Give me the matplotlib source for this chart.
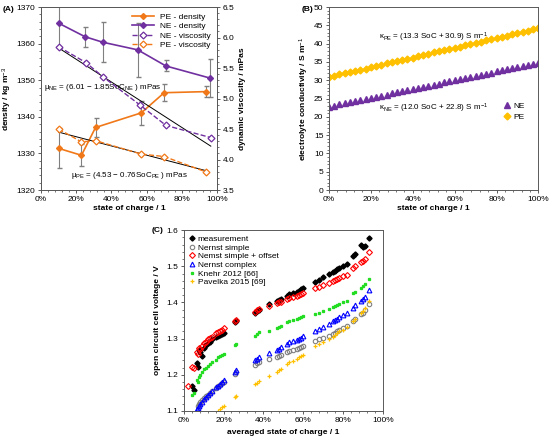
import numpy as np
import matplotlib.pyplot as plt
from matplotlib.ticker import PercentFormatter, MultipleLocator
from matplotlib.lines import Line2D

plt.rcParams['font.family'] = ['Liberation Sans', 'DejaVu Sans']
plt.rcParams['font.size'] = 6
plt.rcParams['mathtext.fontset'] = 'custom'
plt.rcParams['mathtext.rm'] = 'Liberation Sans'
plt.rcParams['mathtext.it'] = 'Liberation Sans:italic'

ORANGE = '#f07818'
PURPLE = '#7030a0'
GOLD = '#ffc000'

# ---- (A) density and viscosity
a_soc_pe = [0.10, 0.23, 0.31, 0.57, 0.70, 0.94]
a_soc_ne = [0.10, 0.25, 0.35, 0.55, 0.71, 0.96]
pe_density = [1331.4, 1329.5, 1337.1, 1341.1, 1346.6, 1346.9]
pe_density_err = [5.5, 3.0, 2.6, 3.3, 2.4, 1.5]
ne_density = [1365.6, 1361.9, 1360.4, 1358.3, 1353.9, 1350.6]
ne_density_err = [6.4, 2.7, 5.4, 7.3, 1.5, 5.3]
a_soc_ne_visc = [0.10, 0.255, 0.355, 0.56, 0.71, 0.965]
ne_visc = [5.85, 5.59, 5.35, 4.90, 4.56, 4.36]
a_soc_pe_visc = [0.10, 0.23, 0.31, 0.57, 0.70, 0.935]
pe_visc = [4.50, 4.29, 4.31, 4.09, 4.05, 3.80]
ne_fit_soc = [0.10, 0.965]
ne_fit_mu = [5.83, 4.22]
pe_fit_soc = [0.10, 0.935]
pe_fit_mu = [4.45, 3.82]

# ---- (B) conductivity
b_soc = [0.0, 0.025, 0.05, 0.075, 0.1, 0.125, 0.15, 0.175, 0.2, 0.225,
         0.25, 0.275, 0.3, 0.325, 0.35, 0.375, 0.4, 0.425, 0.45, 0.475,
         0.5, 0.525, 0.55, 0.575, 0.6, 0.625, 0.65, 0.675, 0.7, 0.725,
         0.75, 0.775, 0.8, 0.825, 0.85, 0.875, 0.9, 0.925, 0.95, 0.975, 1.0]
kappa_ne = [22.8, 23.1, 23.4, 23.7, 24.0, 24.3, 24.6, 24.9, 25.2, 25.5,
            25.8, 26.1, 26.4, 26.7, 27.0, 27.3, 27.6, 27.9, 28.2, 28.5,
            28.8, 29.1, 29.4, 29.7, 30.0, 30.3, 30.6, 30.9, 31.2, 31.5,
            31.8, 32.1, 32.4, 32.7, 33.0, 33.3, 33.6, 33.9, 34.2, 34.5, 34.8]
kappa_pe = [30.9, 31.2, 31.6, 31.9, 32.2, 32.6, 32.9, 33.2, 33.6, 33.9,
            34.2, 34.6, 34.9, 35.2, 35.6, 35.9, 36.2, 36.6, 36.9, 37.2,
            37.6, 37.9, 38.2, 38.5, 38.9, 39.2, 39.5, 39.9, 40.2, 40.5,
            40.9, 41.2, 41.5, 41.9, 42.2, 42.5, 42.9, 43.2, 43.5, 43.9, 44.2]

# ---- (C) open circuit voltage
nan = np.nan
c_soc = [0.02, 0.04, 0.05, 0.065, 0.07, 0.075, 0.08, 0.09, 0.10, 0.11,
         0.12, 0.13, 0.14, 0.16, 0.17, 0.18, 0.19, 0.20, 0.26, 0.265,
         0.36, 0.37, 0.38, 0.43, 0.47, 0.48, 0.49, 0.52, 0.53, 0.55,
         0.57, 0.58, 0.59, 0.60, 0.66, 0.68, 0.70, 0.73, 0.75, 0.76,
         0.77, 0.78, 0.80, 0.82, 0.85, 0.86, 0.89, 0.90, 0.91, 0.93]
v_meas = [nan, 1.168, 1.158, 1.232, 1.222, 1.268, 1.262, 1.252, 1.275, 1.283,
          1.288, 1.292, 1.298, 1.305, 1.308, 1.310, 1.313, 1.316, 1.347, 1.350,
          1.372, 1.376, 1.380, 1.395, 1.405, 1.408, 1.410, 1.418, 1.422, 1.425,
          1.430, 1.433, 1.436, 1.440, 1.457, 1.462, 1.470, 1.478, 1.485, 1.488,
          1.492, 1.495, 1.500, 1.505, 1.528, 1.533, 1.560, 1.552, 1.556, 1.577]
v_simple = [nan, nan, nan, nan, 1.115, 1.118, 1.125, 1.130, 1.135, 1.140,
            1.145, 1.150, 1.155, 1.163, 1.168, 1.172, 1.176, 1.180, 1.203, 1.207,
            1.228, 1.232, 1.235, 1.243, 1.250, 1.253, 1.256, 1.263, 1.266, 1.268,
            1.271, 1.274, 1.277, 1.280, 1.293, 1.298, 1.302, 1.308, 1.312, 1.316,
            1.320, 1.325, 1.330, 1.335, 1.350, 1.355, 1.368, 1.372, 1.380, 1.395]
v_offset = [1.170, 1.222, 1.218, 1.262, 1.258, 1.275, 1.272, 1.280, 1.287, 1.292,
            1.300, 1.303, 1.305, 1.315, 1.318, 1.322, 1.325, 1.330, 1.348, 1.352,
            1.374, 1.378, 1.381, 1.390, 1.398, 1.400, 1.402, 1.410, 1.413, 1.415,
            1.418, 1.420, 1.423, 1.425, 1.440, 1.442, 1.447, 1.455, 1.458, 1.462,
            1.465, 1.468, 1.472, 1.477, 1.495, 1.500, 1.512, 1.515, 1.520, 1.540]
v_complex = [nan, nan, nan, 1.105, 1.108, 1.115, 1.120, 1.125, 1.132, 1.138,
             1.145, 1.150, 1.155, 1.165, 1.170, 1.175, 1.180, 1.185, 1.208, 1.212,
             1.240, 1.245, 1.250, 1.260, 1.268, 1.272, 1.276, 1.285, 1.290, 1.293,
             1.297, 1.300, 1.303, 1.306, 1.322, 1.326, 1.332, 1.340, 1.348, 1.352,
             1.355, 1.360, 1.365, 1.372, 1.385, 1.392, 1.405, 1.410, 1.415, 1.435]
v_knehr = [nan, 1.144, 1.150, 1.185, 1.180, 1.195, 1.200, 1.208, 1.215, 1.220,
           1.225, 1.230, 1.235, 1.242, 1.248, 1.252, 1.255, 1.258, 1.283, 1.286,
           1.308, 1.312, 1.318, 1.322, 1.330, 1.333, 1.335, 1.345, 1.350, 1.352,
           1.355, 1.358, 1.360, 1.362, 1.368, 1.372, 1.376, 1.383, 1.388, 1.390,
           1.393, 1.396, 1.400, 1.403, 1.425, 1.430, 1.440, 1.445, 1.450, 1.465]
v_pavelka = [nan, nan, nan, nan, nan, nan, nan, nan, nan, nan,
             nan, nan, nan, nan, 1.100, 1.105, 1.110, 1.115, 1.138, 1.142,
             1.175, 1.178, 1.182, 1.198, 1.208, 1.212, 1.216, 1.230, 1.235, 1.238,
             1.243, 1.248, 1.252, 1.256, 1.280, 1.285, 1.290, 1.298, 1.305, 1.310,
             1.315, 1.320, 1.325, 1.332, 1.350, 1.355, 1.370, 1.375, 1.385, 1.405]


def style(ax):
    for s in ax.spines.values():
        s.set_color('#595959')
        s.set_linewidth(0.7)
    ax.tick_params(which='both', direction='out', color='#404040',
                   labelsize=6, pad=1.5)
    ax.tick_params(which='major', length=2.5, width=0.6)
    ax.tick_params(which='minor', length=1.5, width=0.5)


fig = plt.figure(figsize=(5.5, 4.4), dpi=100)

# ---------------- (A)
axA = fig.add_axes([0.0745, 0.568, 0.32, 0.416])
axA2 = axA.twinx()
axA2.set_position(axA.get_position())
style(axA)
style(axA2)

axA.errorbar(a_soc_pe, pe_density, yerr=pe_density_err, color=ORANGE, marker='D',
             ms=3, lw=1.2, ecolor='#808080', elinewidth=0.8, capsize=1.8, zorder=3)
axA.errorbar(a_soc_ne, ne_density, yerr=ne_density_err, color=PURPLE, marker='D',
             ms=3, lw=1.2, ecolor='#808080', elinewidth=0.8, capsize=1.8, zorder=3)
axA2.plot(ne_fit_soc, ne_fit_mu, color='black', lw=0.7)
axA2.plot(pe_fit_soc, pe_fit_mu, color='black', lw=0.7)
axA2.plot(a_soc_ne_visc, ne_visc, color=PURPLE, ls='--', lw=1.0, marker='D',
          ms=3.5, mfc='white', mew=0.9)
axA2.plot(a_soc_pe_visc, pe_visc, color=ORANGE, ls='--', lw=1.0, marker='D',
          ms=3.5, mfc='white', mew=0.9)

axA.set_xlim(0, 1)
axA.set_ylim(1320, 1370)
axA2.set_ylim(3.5, 6.5)
axA.xaxis.set_major_locator(MultipleLocator(0.2))
axA.xaxis.set_minor_locator(MultipleLocator(0.04))
axA.xaxis.set_major_formatter(PercentFormatter(xmax=1, decimals=0))
axA.yaxis.set_major_locator(MultipleLocator(10))
axA.yaxis.set_minor_locator(MultipleLocator(2))
axA2.yaxis.set_major_locator(MultipleLocator(0.5))
axA2.yaxis.set_minor_locator(MultipleLocator(0.1))
axA2.yaxis.set_major_formatter(lambda v, p: f'{v:.1f}')
axA.set_xlabel('state of charge / 1', fontweight='bold', labelpad=2)
axA.set_ylabel('density / kg m$^{-3}$', fontweight='bold', labelpad=2)
axA2.set_ylabel('dynamic viscosity / mPas', fontweight='bold', labelpad=3)
axA.text(0.02, 1348, 'μ$_{\\rm NE}$ = (6.01 − 1.85SoC$_{\\rm NE}$ ) mPas',
         va='center', fontsize=5.8)
axA.text(0.17, 1324, 'μ$_{\\rm PE}$ = (4.53 − 0.76SoC$_{\\rm PE}$ ) mPas',
         va='center', fontsize=5.8)
handlesA = [
    Line2D([], [], color=ORANGE, lw=1.2, marker='D', ms=3),
    Line2D([], [], color=PURPLE, lw=1.2, marker='D', ms=3),
    Line2D([], [], color=PURPLE, lw=1.0, ls='--', marker='D', ms=3.5,
           mfc='white', mew=0.9),
    Line2D([], [], color=ORANGE, lw=1.0, ls='--', marker='D', ms=3.5,
           mfc='white', mew=0.9),
]
labelsA = ['PE - density', 'NE - density', 'NE - viscosity', 'PE - viscosity']
axA2.legend(handlesA, labelsA, loc='upper right', frameon=False, fontsize=6,
            handlelength=2.6, labelspacing=0.2, borderaxespad=0.3)
fig.text(0.005, 0.975, '(A)', fontweight='bold', fontsize=6)

# ---------------- (B)
axB = fig.add_axes([0.598, 0.568, 0.381, 0.416])
style(axB)
axB.plot(b_soc, kappa_ne, ls='none', marker='^', ms=4, color=PURPLE, label='NE')
axB.plot(b_soc, kappa_pe, ls='none', marker='D', ms=3.5, color=GOLD, label='PE')
axB.set_xlim(0, 1)
axB.set_ylim(0, 50)
axB.xaxis.set_major_locator(MultipleLocator(0.2))
axB.xaxis.set_minor_locator(MultipleLocator(0.04))
axB.xaxis.set_major_formatter(PercentFormatter(xmax=1, decimals=0))
axB.yaxis.set_major_locator(MultipleLocator(5))
axB.yaxis.set_minor_locator(MultipleLocator(1))
axB.set_xlabel('state of charge / 1', fontweight='bold', labelpad=2)
axB.set_ylabel('electrolyte conductivity / S m$^{-1}$', fontweight='bold', labelpad=2)
axB.text(0.24, 41.6, 'κ$_{\\rm PE}$ = (13.3 SoC + 30.9) S m$^{-1}$',
         va='center', fontsize=5.8)
axB.text(0.24, 22.2, 'κ$_{\\rm NE}$ = (12.0 SoC + 22.8) S m$^{-1}$',
         va='center', fontsize=5.8)
axB.legend(loc='center right', bbox_to_anchor=(0.97, 0.43), frameon=False,
           fontsize=6, handlelength=1.0, handletextpad=0.3, labelspacing=0.35)
fig.text(0.549, 0.975, '(B)', fontweight='bold', fontsize=6)

# ---------------- (C)
axC = fig.add_axes([0.334, 0.066, 0.362, 0.411])
style(axC)
axC.plot(c_soc, v_meas, ls='none', marker='D', ms=2.6, color='black',
         label='measurement')
axC.plot(c_soc, v_simple, ls='none', marker='o', ms=3.2, mfc='none',
         mec='#808080', mew=0.8, label='Nernst simple')
axC.plot(c_soc, v_offset, ls='none', marker='D', ms=3.0, mfc='none',
         mec='#ff0000', mew=0.8, label='Nemst simple + offset')
axC.plot(c_soc, v_complex, ls='none', marker='^', ms=3.4, mfc='none',
         mec='#0000ff', mew=0.8, label='Nernst complex')
axC.plot(c_soc, v_knehr, ls='none', marker='s', ms=1.4, color='#22dd22',
         label='Knehr 2012 [66]')
axC.plot(c_soc, v_pavelka, ls='none', marker='+', ms=3.5, mew=0.9,
         color=GOLD, label='Pavelka 2015 [69]')
axC.set_xlim(0, 1)
axC.set_ylim(1.1, 1.6)
axC.xaxis.set_major_locator(MultipleLocator(0.2))
axC.xaxis.set_minor_locator(MultipleLocator(0.04))
axC.xaxis.set_major_formatter(PercentFormatter(xmax=1, decimals=0))
axC.yaxis.set_major_locator(MultipleLocator(0.1))
axC.yaxis.set_minor_locator(MultipleLocator(0.02))
axC.yaxis.set_major_formatter(lambda v, p: f'{v:.1f}')
axC.set_xlabel('averaged state of charge / 1', fontweight='bold', labelpad=4)
axC.set_ylabel('open circuit cell voltage / V', fontweight='bold', labelpad=4)
axC.legend(loc='upper left', frameon=False, fontsize=6, handlelength=0.8,
           handletextpad=0.3, labelspacing=0.1, borderaxespad=0.2)
fig.text(0.275, 0.472, '(C)', fontweight='bold', fontsize=6)

fig.savefig('out.png', dpi=100)
